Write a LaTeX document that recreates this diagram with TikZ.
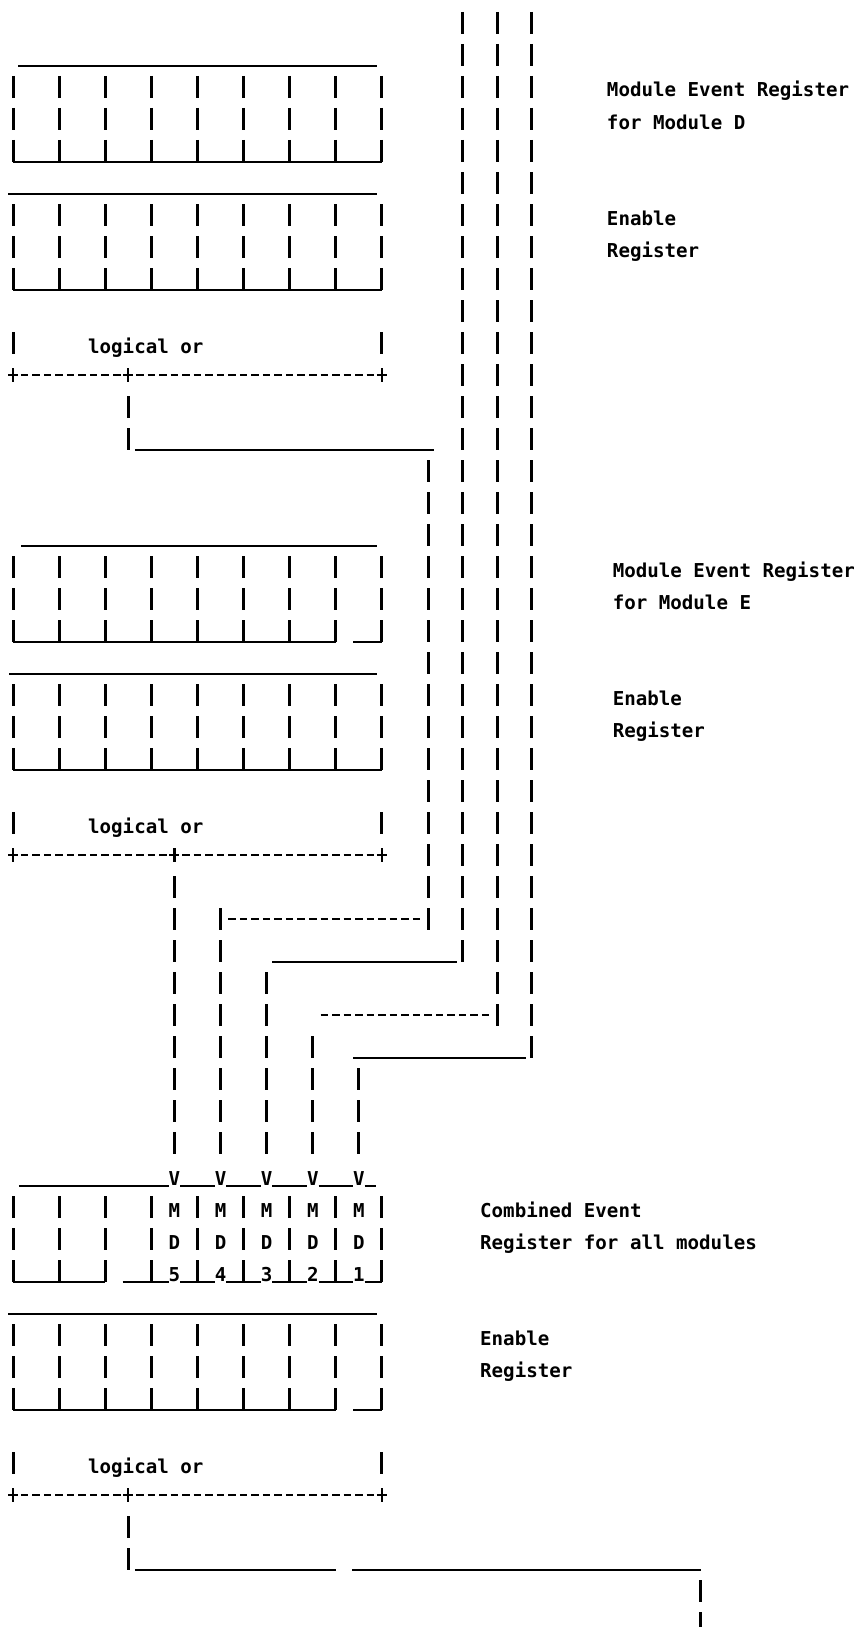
\documentclass[tikz,border=0pt]{standalone}
\usepackage{fontspec}
\newfontfamily\artfont{DejaVu Sans Mono}
\newcommand\cx[1]{13+11.53*(#1)}
\newcommand\yT[1]{12+32*(#1)}
\newcommand\yB[1]{34+32*(#1)}
\newcommand\yM[1]{23+32*(#1)}
\newcommand\regrows[1]{\foreach \k in {0,4,...,32}{\draw[vbar] ({\cx{\k}},{\yT{#1}}) -- ({\cx{\k}},{\yB{#1+2}});}}
\newcommand\plusat[2]{\draw[pm] ({\cx{#1}-5},{\yM{#2}}) -- ({\cx{#1}+5},{\yM{#2}}) ({\cx{#1}},{\yM{#2}-7}) -- ({\cx{#1}},{\yM{#2}+7});}
\newcommand\vcol[3]{\draw[vbar] ({\cx{#1}},{\yT{#2}}) -- ({\cx{#1}},{\yB{#3}});}
\begin{document}
\begin{tikzpicture}[x=1pt,y=-1pt,
 vbar/.style={line width=3pt,dash pattern=on 22pt off 10pt},
 hbar/.style={line width=2.5pt},
 hdash/.style={line width=2.3pt,dash pattern=on 7.5pt off 4.03pt},
 pm/.style={line width=2.3pt},
 lbl/.style={font=\artfont\bfseries\fontsize{19.15}{23}\selectfont,inner sep=0pt,anchor=base west},
 chr/.style={font=\artfont\bfseries\fontsize{19.15}{23}\selectfont,inner sep=0pt,anchor=base}]
\fill[white] (0,0) rectangle (859,1627);
\useasboundingbox (0,0) rectangle (859,1627);
\clip (0,0) rectangle (859,1627);

% bus lines on the right
\vcol{39}{0}{29}
\vcol{42}{0}{31}
\vcol{45}{0}{32}

% ---------- Module D ----------
\draw[hbar] (18,{\yB{1}}) -- (377,{\yB{1}});
\regrows{2}
\draw[hbar] ({\cx{0}},{\yB{4}}) -- ({\cx{32}},{\yB{4}});
\draw[hbar] (8,{\yB{5}}) -- (377,{\yB{5}});
\regrows{6}
\draw[hbar] ({\cx{0}},{\yB{8}}) -- ({\cx{32}},{\yB{8}});
\vcol{0}{10}{10}
\vcol{32}{10}{10}
\node[lbl] (orD) at ({\cx{7}-5.77},{\yB{10}-1}) {logical or};
\draw[hdash] ({\cx{1}-3.77},{\yM{11}}) -- ({\cx{31}+3.77},{\yM{11}});
\plusat{0}{11}\plusat{10}{11}\plusat{32}{11}
\vcol{10}{12}{13}
\draw[hbar] ({\cx{11}-5},{\yB{13}}) -- ({\cx{36}+5.77},{\yB{13}});
\vcol{36}{14}{28}
\node[lbl] (mD1) at ({\cx{52}-5.77},{\yB{2}-1}) {Module Event Register};
\node[lbl] (mD2) at ({\cx{52}-5.77},{\yB{3}-1}) {for Module D};
\node[lbl] (eD1) at ({\cx{52}-5.77},{\yB{6}-1}) {Enable};
\node[lbl] (eD2) at ({\cx{52}-5.77},{\yB{7}-1}) {Register};

% ---------- Module E ----------
\draw[hbar] (21,{\yB{16}}) -- (377,{\yB{16}});
\regrows{17}
\draw[hbar] ({\cx{0}},{\yB{19}}) -- ({\cx{28}},{\yB{19}}) ({\cx{30}-5.77},{\yB{19}}) -- ({\cx{32}},{\yB{19}});
\draw[hbar] (9,{\yB{20}}) -- (377,{\yB{20}});
\regrows{21}
\draw[hbar] ({\cx{0}},{\yB{23}}) -- ({\cx{32}},{\yB{23}});
\vcol{0}{25}{25}
\vcol{32}{25}{25}
\node[lbl] (orE) at ({\cx{7}-5.77},{\yB{25}-1}) {logical or};
\draw[hdash] ({\cx{1}-3.77},{\yM{26}}) -- ({\cx{31}+3.77},{\yM{26}});
\plusat{0}{26}\plusat{14}{26}\plusat{32}{26}
\node[lbl] (mE1) at ({\cx{52.5}-5.77},{\yB{17}-1}) {Module Event Register};
\node[lbl] (mE2) at ({\cx{52.5}-5.77},{\yB{18}-1}) {for Module E};
\node[lbl] (eE1) at ({\cx{52.5}-5.77},{\yB{21}-1}) {Enable};
\node[lbl] (eE2) at ({\cx{52.5}-5.77},{\yB{22}-1}) {Register};

% ---------- routing to combined register ----------
\vcol{14}{27}{35}
\vcol{18}{28}{35}
\draw[hdash] ({\cx{19}-3.77},{\yM{28}}) -- ({\cx{35}+3.77},{\yM{28}});
\draw[hbar] ({\cx{23}-5.77},{\yB{29}}) -- ({\cx{38}+5.77},{\yB{29}});
\vcol{22}{30}{35}
\draw[hdash] ({\cx{27}-3.77},{\yM{31}}) -- ({\cx{41}+3.77},{\yM{31}});
\draw[hbar] ({\cx{30}-5.77},{\yB{32}}) -- ({\cx{44}+5.77},{\yB{32}});
\vcol{26}{32}{35}
\vcol{30}{33}{35}

% ---------- Combined register ----------
\draw[hbar] ({\cx{1}-5.77},{\yB{36}}) -- ({\cx{13}+5.77},{\yB{36}});
\foreach \s in {15,19,23,27}{\draw[hbar] ({\cx{\s}-5.77},{\yB{36}}) -- ({\cx{\s+2}+5.77},{\yB{36}});}
\draw[hbar] ({\cx{31}-5.77},{\yB{36}}) -- ({\cx{31}+5.77},{\yB{36}});
\foreach \c/\n in {14/v5,18/v4,22/v3,26/v2,30/v1}{\node[chr] (\n) at ({\cx{\c}},{\yB{36}-1}) {V};}
\regrows{37}
\foreach \c/\n in {14/m5,18/m4,22/m3,26/m2,30/m1}{\node[chr] (\n) at ({\cx{\c}},{\yB{37}-1}) {M};}
\foreach \c/\n in {14/d5,18/d4,22/d3,26/d2,30/d1}{\node[chr] (\n) at ({\cx{\c}},{\yB{38}-1}) {D};}
\foreach \c/\t in {14/5,18/4,22/3,26/2,30/1}{\node[chr] (n\t) at ({\cx{\c}},{\yB{39}-1}) {\t};}
\draw[hbar] ({\cx{0}},{\yB{39}}) -- ({\cx{8}},{\yB{39}});
\draw[hbar] ({\cx{10}-5.77},{\yB{39}}) -- ({\cx{12}},{\yB{39}});
\foreach \s in {12,16,20,24,28}{\draw[hbar] ({\cx{\s}},{\yB{39}}) -- ({\cx{\s+1}+5.77},{\yB{39}}) ({\cx{\s+3}-5.77},{\yB{39}}) -- ({\cx{\s+4}},{\yB{39}});}
\node[lbl] (cE1) at ({\cx{41}-5.77},{\yB{37}-1}) {Combined Event};
\node[lbl] (cE2) at ({\cx{41}-5.77},{\yB{38}-1}) {Register for all modules};

\draw[hbar] (8,{\yB{40}}) -- (377,{\yB{40}});
\regrows{41}
\draw[hbar] ({\cx{0}},{\yB{43}}) -- ({\cx{28}},{\yB{43}}) ({\cx{30}-5.77},{\yB{43}}) -- ({\cx{32}},{\yB{43}});
\node[lbl] (eC1) at ({\cx{41}-5.77},{\yB{41}-1}) {Enable};
\node[lbl] (eC2) at ({\cx{41}-5.77},{\yB{42}-1}) {Register};
\vcol{0}{45}{45}
\vcol{32}{45}{45}
\node[lbl] (orC) at ({\cx{7}-5.77},{\yB{45}-1}) {logical or};
\draw[hdash] ({\cx{1}-3.77},{\yM{46}}) -- ({\cx{31}+3.77},{\yM{46}});
\plusat{0}{46}\plusat{10}{46}\plusat{32}{46}
\vcol{10}{47}{48}
\draw[hbar] ({\cx{11}-5},{\yB{48}}) -- (336,{\yB{48}}) (352,{\yB{48}}) -- (701,{\yB{48}});
\draw[vbar] (700,{\yT{49}}) -- (700,{\yB{50}});
\end{tikzpicture}
\end{document}
